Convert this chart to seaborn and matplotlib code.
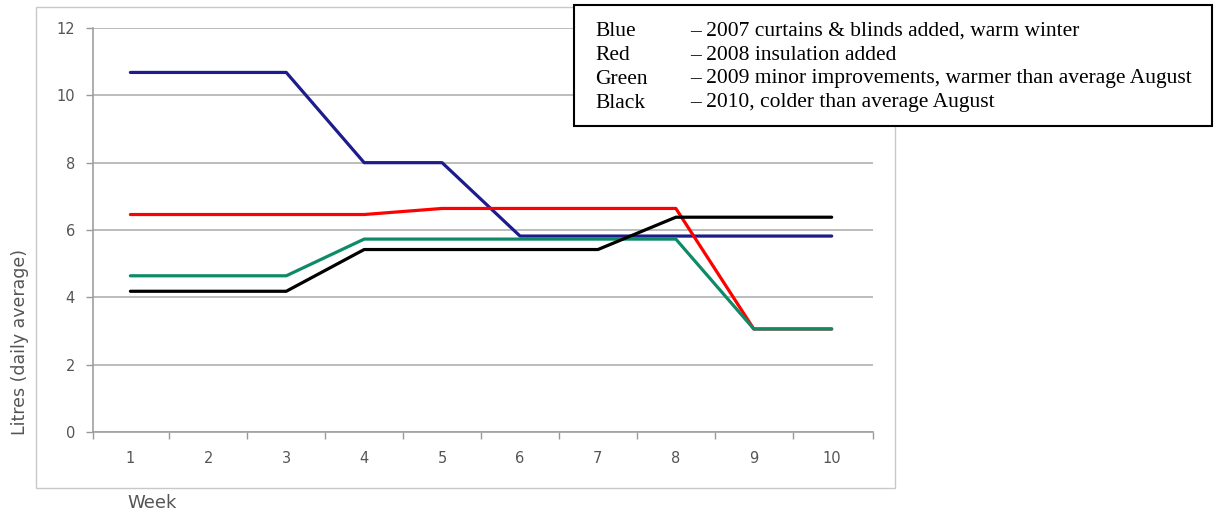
import matplotlib
matplotlib.use("Agg")
import matplotlib.pyplot as plt
from matplotlib.patches import Rectangle
import seaborn as sns
import pandas as pd

weeks = [1, 2, 3, 4, 5, 6, 7, 8, 9, 10]
blue_2007 = [10.68, 10.68, 10.68, 8.0, 8.0, 5.82, 5.82, 5.82, 5.82, 5.82]
red_2008 = [6.46, 6.46, 6.46, 6.46, 6.64, 6.64, 6.64, 6.64, 3.06, 3.06]
green_2009 = [4.64, 4.64, 4.64, 5.73, 5.73, 5.73, 5.73, 5.73, 3.06, 3.06]
black_2010 = [4.18, 4.18, 4.18, 5.42, 5.42, 5.42, 5.42, 6.38, 6.38, 6.38]

series_names = ["Blue", "Red", "Green", "Black"]
series_values = [blue_2007, red_2008, green_2009, black_2010]
series_colors = ["#1c1c8c", "#ff0000", "#0e8a68", "#000000"]

legend_keys = ["Blue", "Red", "Green", "Black"]
legend_texts = [
    "\u2013 2007 curtains & blinds added, warm winter",
    "\u2013 2008 insulation added",
    "\u2013 2009 minor improvements, warmer than average August",
    "\u2013 2010, colder than average August",
]

y_ticks = [0, 2, 4, 6, 8, 10, 12]

frames = []
for name, vals in zip(series_names, series_values):
    frames.append(pd.DataFrame({"Week": weeks, "Litres": vals, "Series": name}))
df = pd.concat(frames, ignore_index=True)

sns.set_style("white")
plt.rcParams["font.family"] = ["DejaVu Sans"]

fig = plt.figure(figsize=(12.14, 5.12), dpi=100)
W, H = 1214, 512
ax = fig.add_axes([93 / W, 1 - 432 / H, (873 - 93) / W, (432 - 28) / H])

# outer chart-area frame
fig.patches.append(Rectangle((36 / W, 1 - 488 / H), (895 - 36) / W, (488 - 7) / H,
                             transform=fig.transFigure, fill=False,
                             edgecolor="#c8c8c8", linewidth=1.0, zorder=0))

sns.lineplot(data=df, x="Week", y="Litres", hue="Series",
             palette=dict(zip(series_names, series_colors)),
             hue_order=series_names, linewidth=2.3, ax=ax, legend=False,
             zorder=3)

ax.set_xlim(0.52, 10.53)
ax.set_ylim(0, 12)
ax.set_yticks(y_ticks)
ax.set_yticklabels([str(t) for t in y_ticks], fontsize=10.5, color="#555555")
ax.set_xticks(weeks)
ax.set_xticklabels([str(w) for w in weeks], fontsize=10.5, color="#555555")
ax.tick_params(axis="x", which="major", bottom=True, length=0, pad=14)
ax.tick_params(axis="y", left=True, length=5, color="#999999", pad=8, width=1)
# ticks between categories
ax.set_xticks([w + 0.5 for w in weeks[:-1]] + [0.52, 10.53], minor=True)
ax.tick_params(axis="x", which="minor", bottom=True, length=5, color="#999999",
               width=1, direction="out")

ax.grid(axis="y", color="#b0b0b0", linewidth=1.2)
ax.grid(axis="x", visible=False)
for side in ["top", "right"]:
    ax.spines[side].set_visible(False)
for side in ["left", "bottom"]:
    ax.spines[side].set_color("#a0a0a0")
    ax.spines[side].set_linewidth(1.2)
ax.set_xlabel("")
ax.set_ylabel("")

fig.text(20 / W, 1 - 342 / H, "Litres (daily average)", rotation=90,
         ha="center", va="center", fontsize=12.5, color="#555555")
fig.text(152 / W, 1 - 503 / H, "Week", ha="center", va="center",
         fontsize=13, color="#555555")

# annotation box with series descriptions
fig.patches.append(Rectangle((574 / W, 1 - 126 / H), (1212 - 574) / W, (126 - 5) / H,
                             transform=fig.transFigure, facecolor="white",
                             edgecolor="black", linewidth=1.5, zorder=5))
for i, (k, t) in enumerate(zip(legend_keys, legend_texts)):
    yy = 1 - (31 + 24 * i) / H
    fig.text(595 / W, yy, k, ha="left", va="center", fontsize=15.5,
             family="Liberation Serif", color="black", zorder=6)
    fig.text(690 / W, yy, t, ha="left", va="center", fontsize=15.5,
             family="Liberation Serif", color="black", zorder=6)

fig.savefig("out.png", dpi=100, facecolor="white")
